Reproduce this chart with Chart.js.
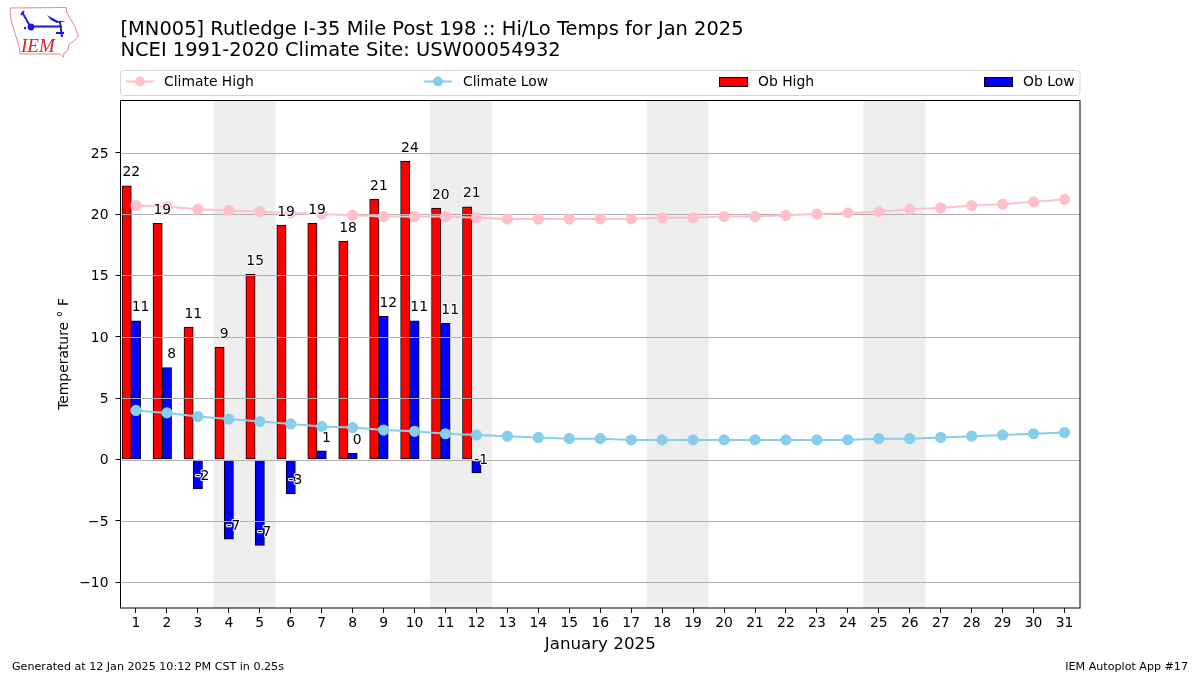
<!DOCTYPE html>
<html>
<head>
<meta charset="utf-8">
<style>
html,body{margin:0;padding:0;background:#fff;}
#wrap{position:relative;width:1200px;height:675px;overflow:hidden;}
canvas{display:block;}
#logo{position:absolute;left:0;top:0;}
</style>
<script src="https://cdn.jsdelivr.net/npm/chart.js@4"></script>
</head>
<body>
<div id="wrap">
<canvas id="c" width="1200" height="675"></canvas>
<svg id="logo" width="90" height="62" viewBox="0 0 90 62">
  <path d="M10 8 L66 7.5 L67 13 L70 18 L75 27 L78.5 36 L74 41 L69 44 L68 50 L64 53 L63.5 57 L60 54 L20 54 L19 46 L15 33 L11 20 Z" fill="none" stroke="#e48a8a" stroke-width="1"/>
  <path d="M22 12 L30 26 M30 26.5 L62 26.5 M60 22 L62 37 M56 33 L64 33 M21 15 L24 11" stroke="#1a1ae0" stroke-width="1.9" fill="none"/>
  <path d="M47 15 L58 21 L66 21 L57 23 L51 20 Z" fill="#1a1ae0"/>
  <circle cx="31" cy="27" r="3.4" fill="#1a1ae0"/>
  <circle cx="25" cy="28" r="1.2" fill="#1a1ae0"/>
  <text x="21" y="52" font-family="Liberation Serif" font-style="italic" font-size="19" fill="#d62020">IEM</text>
</svg>
</div>
<script>
const days = [1,2,3,4,5,6,7,8,9,10,11,12,13,14,15,16,17,18,19,20,21,22,23,24,25,26,27,28,29,30,31];
const obDays = [1,2,3,4,5,6,7,8,9,10,11,12];
const climateHigh = [20.7,20.6,20.4,20.3,20.2,20.1,20.0,19.9,19.8,19.8,19.8,19.7,19.6,19.6,19.6,19.6,19.6,19.7,19.7,19.8,19.8,19.9,20.0,20.1,20.2,20.4,20.5,20.7,20.8,21.0,21.2];
const climateLow = [4.0,3.8,3.5,3.3,3.1,2.9,2.7,2.6,2.4,2.3,2.1,2.0,1.9,1.8,1.7,1.7,1.6,1.6,1.6,1.6,1.6,1.6,1.6,1.6,1.7,1.7,1.8,1.9,2.0,2.1,2.2];
const obHigh = [22.3,19.25,10.8,9.15,15.1,19.1,19.25,17.8,21.2,24.3,20.5,20.6];
const obLow = [11.3,7.5,-2.4,-6.5,-7.0,-2.8,0.7,0.5,11.7,11.3,11.1,-1.1];
const obHighLabels = ['22','19','11','9','15','19','19','18','21','24','20','21'];
const obLowLabels = ['11','8','-2','-7','-7','-3','1','0','12','11','11','-1'];
const weekendBands = [[3.5,5.5],[10.5,12.5],[17.5,19.5],[24.5,26.5]];
const yTicks = [-10,-5,0,5,10,15,20,25];
const titleLines = ['[MN005] Rutledge I-35 Mile Post 198 :: Hi/Lo Temps for Jan 2025','NCEI 1991-2020 Climate Site: USW00054932'];
const xTitle = 'January 2025';
const yTitle = 'Temperature \u00B0 F';
const footLeft = 'Generated at 12 Jan 2025 10:12 PM CST in 0.25s';
const footRight = 'IEM Autoplot App #17';

const FONT = '"DejaVu Sans"';
const HIGH_SHIFT = -0.3, LOW_SHIFT = 0, HIGH_LABEL_SHIFT = -0.15, LOW_LABEL_SHIFT = 0.15;

const pageArt = {
  id: 'pageArt',
  beforeDatasetsDraw(chart) {
    const {ctx, chartArea: a, scales: {x}} = chart;
    ctx.save();
    ctx.fillStyle = '#eeeeee';
    weekendBands.forEach(([s, e]) => {
      const l = x.getPixelForValue(s), r = x.getPixelForValue(e);
      ctx.fillRect(l, a.top, r - l, a.bottom - a.top);
    });
    ctx.restore();
  },
  afterDatasetDraw(chart, args) {
    if (args.index !== 3) return;
    const {ctx, chartArea: a, scales: {y}} = chart;
    ctx.save();
    ctx.strokeStyle = '#b0b0b0';
    ctx.lineWidth = 1;
    yTicks.forEach(v => {
      const p = Math.round(y.getPixelForValue(v)) + 0.5;
      ctx.beginPath(); ctx.moveTo(a.left, p); ctx.lineTo(a.right, p); ctx.stroke();
    });
    ctx.restore();
  },
  afterDatasetsDraw(chart) {
    const {ctx, scales: {x, y}} = chart;
    ctx.save();
    ctx.font = '13.9px ' + FONT;
    ctx.textAlign = 'center';
    ctx.textBaseline = 'middle';
    ctx.lineJoin = 'round';
    const put = (txt, px, py) => {
      ctx.strokeStyle = '#fff'; ctx.lineWidth = 2;
      ctx.strokeText(txt, px, py);
      ctx.fillStyle = '#000';
      ctx.fillText(txt, px, py);
    };
    obDays.forEach((d, i) => {
      put(obHighLabels[i], x.getPixelForValue(d + HIGH_LABEL_SHIFT), y.getPixelForValue(obHigh[i]) - 13);
      put(obLowLabels[i], x.getPixelForValue(d + LOW_LABEL_SHIFT), y.getPixelForValue(obLow[i]) - 13);
    });
    ctx.restore();
  },
  afterDraw(chart) {
    const {ctx} = chart;
    ctx.save();
    // frame
    ctx.strokeStyle = '#000'; ctx.lineWidth = 1;
    ctx.strokeRect(120.5, 100.5, 959.5, 507.5);
    // legend box
    ctx.strokeStyle = '#d4d4d4'; ctx.lineWidth = 1; ctx.fillStyle = '#fff';
    ctx.beginPath(); ctx.roundRect(120.5, 70.5, 959.5, 25, 3); ctx.fill(); ctx.stroke();
    ctx.font = '13.9px ' + FONT; ctx.textBaseline = 'middle'; ctx.textAlign = 'left';
    const cy = 81.5, ty = 82.5;
    const lineItem = (ds, x0, tx) => {
      ctx.strokeStyle = ds.borderColor; ctx.lineWidth = 2;
      ctx.beginPath(); ctx.moveTo(x0, cy); ctx.lineTo(x0 + 28, cy); ctx.stroke();
      ctx.fillStyle = ds.pointBackgroundColor;
      ctx.beginPath(); ctx.arc(x0 + 14, cy, 4.9, 0, Math.PI * 2); ctx.fill();
      ctx.fillStyle = '#000'; ctx.fillText(ds.label, tx, ty);
    };
    const patchItem = (ds, x0, tx) => {
      ctx.fillStyle = ds.backgroundColor; ctx.strokeStyle = '#000'; ctx.lineWidth = 1;
      ctx.fillRect(x0 + 0.5, 77.5, 28, 9); ctx.strokeRect(x0 + 0.5, 77.5, 28, 9);
      ctx.fillStyle = '#000'; ctx.fillText(ds.label, tx, ty);
    };
    const ds = chart.data.datasets;
    lineItem(ds[0], 126, 164);
    lineItem(ds[1], 424, 463);
    patchItem(ds[2], 719, 758);
    patchItem(ds[3], 984, 1023);
    // footers
    ctx.fillStyle = '#000'; ctx.font = '11.12px ' + FONT;
    ctx.fillText(footLeft, 12, 667.5);
    ctx.textAlign = 'right';
    ctx.fillText(footRight, 1188, 667.5);
    ctx.restore();
  }
};

new Chart(document.getElementById('c'), {
  data: {
    datasets: [
      {type:'line', label:'Climate High', data: days.map((d,i)=>({x:d,y:climateHigh[i]})), borderColor:'#ffc0cb', backgroundColor:'#ffc0cb', pointBackgroundColor:'#ffc0cb', pointBorderColor:'#ffc0cb', pointRadius:4.6, borderWidth:2, tension:0, order:1},
      {type:'line', label:'Climate Low', data: days.map((d,i)=>({x:d,y:climateLow[i]})), borderColor:'#87ceeb', backgroundColor:'#87ceeb', pointBackgroundColor:'#87ceeb', pointBorderColor:'#87ceeb', pointRadius:4.6, borderWidth:2, tension:0, order:0},
      {type:'bar', label:'Ob High', data: obDays.map((d,i)=>({x:d+HIGH_SHIFT,y:obHigh[i]})), backgroundColor:'#ff0000', borderColor:'#000', borderWidth:1, borderSkipped:false, barThickness:9.3, grouped:false, order:3},
      {type:'bar', label:'Ob Low', data: obDays.map((d,i)=>({x:d+LOW_SHIFT,y:obLow[i]})), backgroundColor:'#0000ff', borderColor:'#000', borderWidth:1, borderSkipped:false, barThickness:9.3, grouped:false, order:2}
    ]
  },
  options: {
    responsive:false, animation:false, devicePixelRatio:1,
    layout:{padding:{left:0,right:120,top:0,bottom:0}},
    font:{family:FONT},
    plugins:{
      legend:{display:false}, tooltip:{enabled:false},
      title:{display:true, text:titleLines, align:'start', fullSize:false, color:'#000', position:'top',
        font:{family:FONT,size:19.44,weight:'normal',lineHeight:1.08}, padding:{top:19.5,bottom:38.5}}
    },
    scales:{
      x:{type:'linear', min:0.5, max:31.5, offset:false,
        afterBuildTicks(s){ s.ticks = days.map(v=>({value:v})); },
        afterFit(s){ s.height = 67; },
        grid:{offset:false, drawOnChartArea:false, drawTicks:true, tickLength:5, tickColor:'#000', tickWidth:1},
        border:{display:false},
        ticks:{color:'#000',font:{family:FONT,size:13.9},autoSkip:false,maxRotation:0,padding:2,callback:v=>String(v)},
        title:{display:true,text:xTitle,color:'#000',font:{family:FONT,size:16.7},padding:{top:20,bottom:20}}
      },
      y:{type:'linear', min:-12.1, max:29.3,
        afterBuildTicks(s){ s.ticks = yTicks.map(v=>({value:v})); },
        afterFit(s){ s.width = 120.5; },
        grid:{drawOnChartArea:false, drawTicks:true, tickLength:5, tickColor:'#000', tickWidth:1},
        border:{display:false},
        ticks:{color:'#000',font:{family:FONT,size:13.9},padding:7,labelOffset:1.3,callback:v=>v<0?'\u2212'+Math.abs(v):String(v)},
        title:{display:true,text:yTitle,color:'#000',font:{family:FONT,size:13.9},padding:{top:55.7,bottom:55.7}}
      }
    }
  },
  plugins:[pageArt]
});
</script>
</body>
</html>
